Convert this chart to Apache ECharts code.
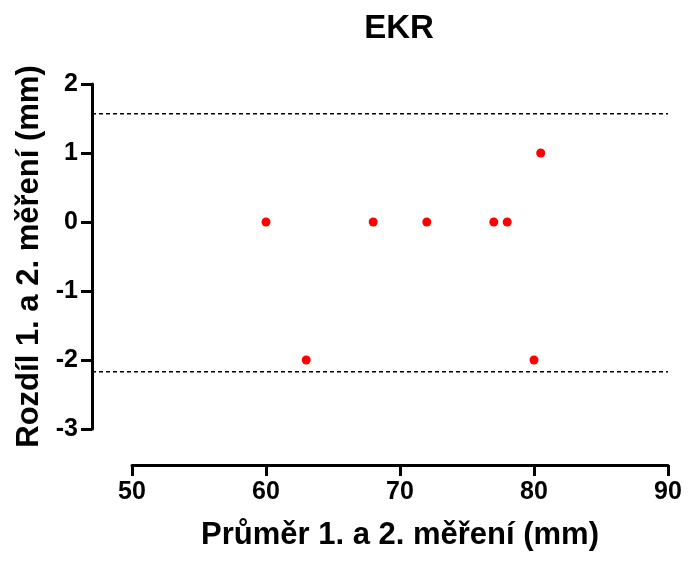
<!DOCTYPE html>
<html><head><meta charset="utf-8">
<script src="https://cdn.jsdelivr.net/npm/echarts@6/dist/echarts.min.js"></script>
<style>html,body{margin:0;padding:0;background:#fff}#c{width:690px;height:567px}</style>
</head><body><div id="c"></div>
<script>
const titleText = 'EKR';
const xName = 'Průměr 1. a 2. měření (mm)';
const yName = 'Rozdíl 1. a 2. měření (mm)';
const xMean = [60, 63, 68, 72, 77, 78, 80.5, 80];
const yDiff = [0, -2, 0, 0, 0, 0, 1, -2];
const upperLimit = 1.57;
const lowerLimit = -2.17;
const xTicks = [50, 60, 70, 80, 90];
const yTicks = [-3, -2, -1, 0, 1, 2];

const FONT = 'Liberation Sans, Arial, sans-serif';
const chart = echarts.init(document.getElementById('c'));
const axisLine = {onZero: false, lineStyle: {color: '#000', width: 3}};
const axisTick = {lineStyle: {color: '#000', width: 3}, length: 11};
const labelStyle = {color: '#000', fontFamily: FONT, fontWeight: 'bold', fontSize: 25};
const nameStyle = {fontFamily: FONT, fontWeight: 'bold', fontSize: 31, color: '#000'};
chart.setOption({
  animation: false,
  title: {text: titleText, left: 394, top: 7, textAlign: 'center',
    textStyle: {fontFamily: FONT, fontWeight: 'bold', fontSize: 33, color: '#000'}},
  grid: [
    {left: 92, right: 22, top: 84, bottom: 138},
    {left: 132, right: 22, top: 84, bottom: 138}
  ],
  xAxis: [
    {gridIndex: 0, type: 'value', min: 0, max: 1, show: false},
    {gridIndex: 1, type: 'value', min: xTicks[0], max: xTicks[xTicks.length-1], interval: 10,
      offset: 36, axisLine: axisLine, axisTick: axisTick, splitLine: {show: false},
      axisLabel: Object.assign({margin: 15}, labelStyle),
      name: xName, nameLocation: 'middle', nameGap: 55, nameTextStyle: nameStyle}
  ],
  yAxis: [
    {gridIndex: 0, type: 'value', min: yTicks[0], max: yTicks[yTicks.length-1], interval: 1,
      axisLine: Object.assign({show: true}, axisLine), axisTick: Object.assign({show: true}, axisTick),
      splitLine: {show: false},
      axisLabel: Object.assign({margin: 14}, labelStyle),
      name: yName, nameLocation: 'middle', nameGap: 47, nameTextStyle: nameStyle},
    {gridIndex: 1, type: 'value', min: yTicks[0], max: yTicks[yTicks.length-1], show: false}
  ],
  series: [
    {type: 'line', xAxisIndex: 0, yAxisIndex: 0, data: [[0, upperLimit], [1, upperLimit]],
      symbol: 'none', lineStyle: {color: '#000', width: 1.5, type: [4, 3]}},
    {type: 'line', xAxisIndex: 0, yAxisIndex: 0, data: [[0, lowerLimit], [1, lowerLimit]],
      symbol: 'none', lineStyle: {color: '#000', width: 1.5, type: [4, 3]}},
    {type: 'scatter', xAxisIndex: 1, yAxisIndex: 1, symbolSize: 9,
      itemStyle: {color: '#ff0000', opacity: 1}, data: xMean.map((x, i) => [x, yDiff[i]])}
  ]
});
</script></body></html>
